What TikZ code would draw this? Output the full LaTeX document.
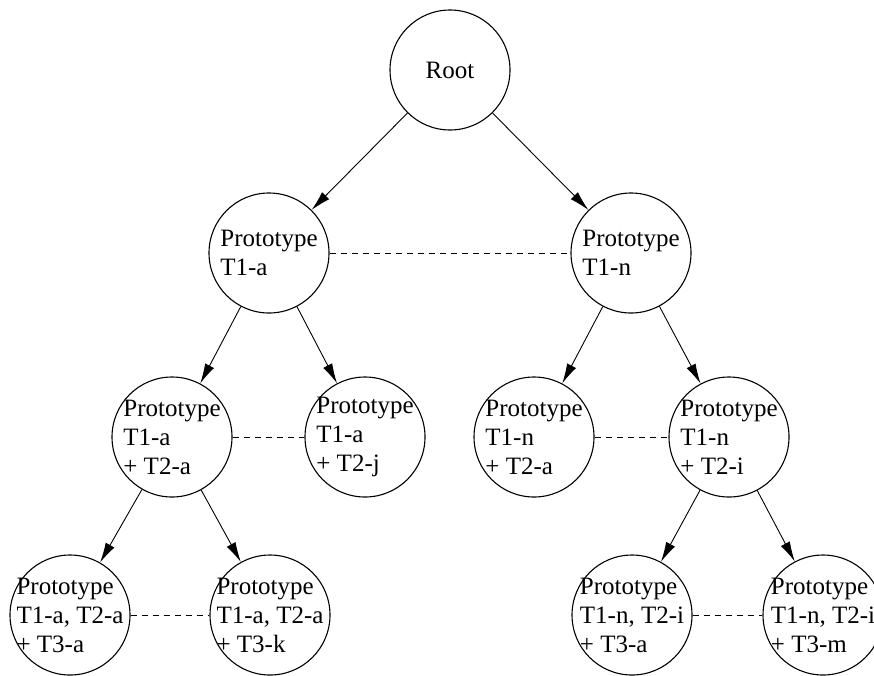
\documentclass[tikz,border=0pt]{standalone}
\usepackage{fontspec}
\setmainfont{Liberation Serif}
\usetikzlibrary{arrows.meta}
\begin{document}
\begin{tikzpicture}[x=1pt,y=-1pt,
  proto/.style={circle,draw,line width=1.1pt,minimum size=120pt,inner sep=0pt},
  lbl/.style={align=left,inner sep=0pt,font=\fontsize{25}{29}\selectfont},
  tree/.style={line width=0.9pt,-{Latex[length=20pt,width=10pt]}},
  peer/.style={line width=0.9pt,dash pattern=on 6pt off 5pt}]
\useasboundingbox (0,0) rectangle (874,675);
% nodes
\node[proto] (root) at (450,70) {};
\node[lbl] at (root.center) {Root};
\node[proto] (a) at (269,253) {};
\node[lbl] at (a.center) {Prototype\\T1-a};
\node[proto] (n) at (631,253) {};
\node[lbl] at (n.center) {Prototype\\T1-n};
\node[proto] (aa) at (172,437) {};
\node[lbl] at (aa.center) {Prototype\\T1-a\\+ T2-a};
\node[proto] (aj) at (365,437) {};
\node[lbl] at (aj.center) {Prototype\\T1-a\\+ T2-j};
\node[proto] (na) at (534,437) {};
\node[lbl] at (na.center) {Prototype\\T1-n\\+ T2-a};
\node[proto] (ni) at (729,437) {};
\node[lbl] at (ni.center) {Prototype\\T1-n\\+ T2-i};
\node[proto] (aaa) at (70,615) {};
\node[lbl] at (aaa.center) {Prototype\\T1-a, T2-a\\+ T3-a};
\node[proto] (aak) at (270,615) {};
\node[lbl] at (aak.center) {Prototype\\T1-a, T2-a\\+ T3-k};
\node[proto] (nia) at (632,615) {};
\node[lbl] at (nia.center) {Prototype\\T1-n, T2-i\\+ T3-a};
\node[proto] (nim) at (823,615) {};
\node[lbl] at (nim.center) {Prototype\\T1-n, T2-i\\+ T3-m};
% tree edges
\draw[tree] (root) -- (a);
\draw[tree] (root) -- (n);
\draw[tree] (a) -- (aa);
\draw[tree] (a) -- (aj);
\draw[tree] (n) -- (na);
\draw[tree] (n) -- (ni);
\draw[tree] (aa) -- (aaa);
\draw[tree] (aa) -- (aak);
\draw[tree] (ni) -- (nia);
\draw[tree] (ni) -- (nim);
% peer links
\draw[peer] (a.east) -- (n.west);
\draw[peer] (aa.east) -- (aj.west);
\draw[peer] (na.east) -- (ni.west);
\draw[peer] (aaa.east) -- (aak.west);
\draw[peer] (nia.east) -- (nim.west);
\end{tikzpicture}
\end{document}
